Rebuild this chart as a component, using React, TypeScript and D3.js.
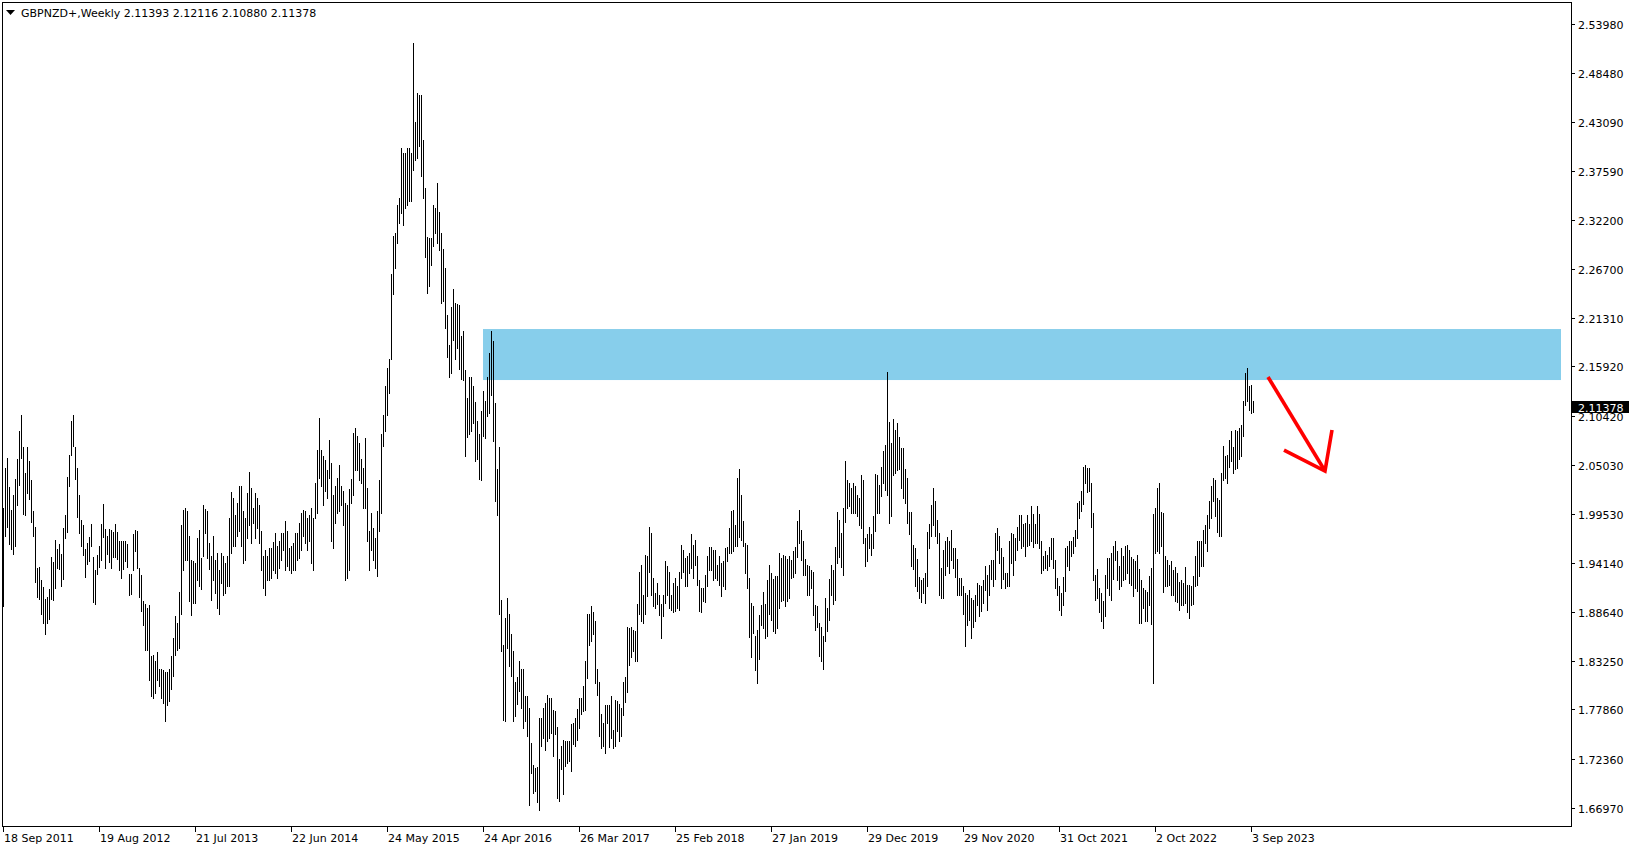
import React from "react";
import * as d3 from "d3";

const SYMBOL = "GBPNZD+,Weekly";
const LAST_OHLC = ["2.11393", "2.12116", "2.10880", "2.11378"];
const LAST_PRICE = 2.11378;
const START_DATE = "18 Sep 2011";

const priceTicks = ["2.53980","2.48480","2.43090","2.37590","2.32200","2.26700","2.21310","2.15920","2.10420","2.05030","1.99530","1.94140","1.88640","1.83250","1.77860","1.72360","1.66970"];
const dateTicks = ["18 Sep 2011","19 Aug 2012","21 Jul 2013","22 Jun 2014","24 May 2015","24 Apr 2016","26 Mar 2017","25 Feb 2018","27 Jan 2019","29 Dec 2019","29 Nov 2020","31 Oct 2021","2 Oct 2022","3 Sep 2023"];

const highs = [
2.002,2.047,2.058,2.025,2.000,2.016,2.034,2.057,2.088,2.105,
2.070,2.041,2.070,2.054,2.033,1.999,1.981,1.935,1.937,1.922,
1.914,1.901,1.903,1.912,1.948,1.942,1.967,1.957,1.962,1.951,
1.980,1.994,2.037,2.061,2.099,2.105,2.070,2.046,2.017,1.989,
1.983,1.957,1.963,1.970,1.984,1.948,1.933,1.950,1.960,1.984,
2.007,1.979,1.971,1.979,1.978,1.975,1.984,1.976,1.966,1.966,
1.966,1.965,1.962,1.929,1.929,1.973,1.978,1.977,1.935,1.928,
1.899,1.895,1.891,1.894,1.838,1.839,1.832,1.842,1.823,1.823,
1.822,1.820,1.820,1.823,1.838,1.858,1.882,1.874,1.909,1.983,
2.000,2.002,1.999,1.971,1.944,1.943,1.941,1.969,1.978,1.947,
2.005,2.001,1.999,1.963,1.949,1.971,1.944,1.952,1.933,1.952,
1.949,1.941,1.949,1.991,2.020,2.013,1.994,2.008,2.026,2.027,
1.999,1.991,2.019,2.042,2.024,2.002,2.019,2.013,2.005,1.977,
1.949,1.955,1.949,1.958,1.958,1.964,1.974,1.960,1.966,1.974,
1.974,1.988,1.977,1.958,1.960,1.963,1.974,1.974,1.985,1.996,
2.000,1.999,1.991,1.994,2.002,1.991,2.030,2.066,2.102,2.067,
2.060,2.055,2.044,2.078,2.052,2.016,2.027,2.035,2.050,2.026,
2.021,2.008,2.005,2.023,2.034,2.085,2.091,2.082,2.074,2.057,
2.046,2.080,2.024,1.977,1.996,1.980,1.969,1.999,2.033,2.084,
2.105,2.138,2.157,2.168,2.262,2.304,2.307,2.338,2.346,2.402,
2.396,2.396,2.402,2.402,2.396,2.518,2.430,2.463,2.460,2.461,
2.411,2.357,2.303,2.302,2.302,2.338,2.335,2.363,2.331,2.307,
2.290,2.268,2.216,2.183,2.225,2.245,2.230,2.228,2.227,2.193,
2.199,2.155,2.124,2.148,2.148,2.138,2.120,2.099,2.084,2.110,
2.132,2.121,2.147,2.174,2.199,2.187,2.119,2.045,2.070,1.900,
1.850,1.880,1.902,1.884,1.862,1.843,1.809,1.815,1.832,1.823,
1.823,1.793,1.794,1.780,1.741,1.717,1.713,1.715,1.769,1.769,
1.780,1.786,1.795,1.791,1.791,1.778,1.777,1.759,1.723,1.738,
1.745,1.744,1.744,1.743,1.762,1.763,1.769,1.779,1.791,1.791,
1.804,1.832,1.885,1.884,1.893,1.887,1.877,1.823,1.809,1.773,
1.763,1.783,1.784,1.784,1.794,1.756,1.789,1.788,1.785,1.780,
1.809,1.815,1.870,1.869,1.870,1.867,1.866,1.895,1.931,1.939,
1.906,1.950,1.949,1.981,1.974,1.924,1.908,1.919,1.905,1.895,
1.906,1.943,1.938,1.931,1.905,1.919,1.924,1.916,1.931,1.961,
1.955,1.947,1.949,1.952,1.973,1.961,1.967,1.949,1.922,1.913,
1.913,1.928,1.949,1.959,1.959,1.955,1.956,1.939,1.949,1.941,
1.943,1.958,1.959,1.980,1.999,2.000,1.983,2.035,2.045,2.016,
1.988,1.963,1.961,1.924,1.897,1.893,1.860,1.867,1.883,1.894,
1.909,1.895,1.922,1.939,1.930,1.923,1.927,1.927,1.952,1.947,
1.950,1.949,1.945,1.949,1.944,1.954,1.959,1.988,2.000,1.978,
1.965,1.945,1.939,1.938,1.933,1.931,1.894,1.893,1.874,1.870,
1.860,1.902,1.891,1.923,1.939,1.933,1.959,1.998,1.989,1.974,
2.002,2.054,2.033,2.030,2.024,2.030,2.027,2.017,2.013,2.039,
2.033,1.969,1.973,1.981,1.973,1.993,2.040,2.039,2.028,2.048,
2.065,2.072,2.153,2.098,2.074,2.101,2.089,2.096,2.081,2.069,
2.069,2.045,2.035,1.998,1.998,1.961,1.958,1.945,1.926,1.922,
1.924,1.930,1.976,1.984,2.005,2.024,2.010,1.989,1.974,1.935,
1.956,1.966,1.970,1.965,1.978,1.958,1.958,1.945,1.924,1.924,
1.915,1.908,1.906,1.911,1.902,1.900,1.905,1.919,1.917,1.915,
1.922,1.938,1.928,1.939,1.944,1.944,1.974,1.980,1.971,1.958,
1.948,1.930,1.930,1.965,1.974,1.973,1.969,1.981,1.994,1.994,
1.984,1.985,1.994,1.984,2.004,1.995,1.984,2.004,1.995,1.966,
1.949,1.954,1.950,1.959,1.969,1.969,1.944,1.924,1.915,1.908,
1.926,1.958,1.960,1.966,1.966,1.970,1.978,2.008,2.010,2.021,
2.048,2.050,2.046,2.046,2.030,1.996,1.928,1.934,1.913,1.908,
1.899,1.928,1.947,1.947,1.952,1.960,1.965,1.954,1.938,1.958,
1.949,1.960,1.961,1.955,1.948,1.945,1.943,1.950,1.934,1.922,
1.913,1.911,1.909,1.927,1.935,1.995,2.002,2.024,2.030,1.998,
1.996,1.949,1.944,1.939,1.943,1.933,1.937,1.930,1.920,1.922,
1.919,1.937,1.917,1.917,1.916,1.927,1.949,1.965,1.965,1.965,
1.978,1.983,1.994,2.010,2.026,2.035,2.033,2.013,2.011,2.041,
2.071,2.060,2.061,2.078,2.088,2.070,2.089,2.087,2.091,2.094,
2.121,2.152,2.157,2.137,2.139,2.12116
];

const lows = [
1.893,1.971,1.981,1.962,1.957,1.951,1.960,2.005,2.028,2.058,
1.995,1.994,2.019,2.012,1.986,1.971,1.920,1.903,1.901,1.885,
1.875,1.862,1.874,1.879,1.901,1.900,1.913,1.935,1.934,1.916,
1.923,1.969,1.975,2.027,2.061,2.071,2.034,1.992,1.974,1.960,
1.950,1.926,1.940,1.943,1.960,1.898,1.895,1.929,1.937,1.944,
1.970,1.936,1.951,1.942,1.936,1.948,1.948,1.946,1.933,1.924,
1.934,1.943,1.937,1.905,1.907,1.933,1.954,1.935,1.903,1.888,
1.872,1.845,1.844,1.811,1.794,1.791,1.797,1.811,1.804,1.791,
1.786,1.766,1.783,1.788,1.801,1.816,1.839,1.844,1.847,1.885,
1.933,1.944,1.944,1.899,1.883,1.897,1.897,1.922,1.916,1.912,
1.949,1.974,1.947,1.934,1.900,1.922,1.908,1.891,1.884,1.919,
1.906,1.908,1.916,1.916,1.952,1.960,1.960,1.971,1.977,1.960,
1.941,1.944,1.969,1.983,1.963,1.985,1.969,1.980,1.963,1.933,
1.913,1.905,1.922,1.922,1.924,1.933,1.930,1.924,1.935,1.944,
1.955,1.933,1.938,1.933,1.930,1.933,1.933,1.944,1.947,1.955,
1.971,1.963,1.955,1.966,1.941,1.933,1.991,1.996,2.035,2.027,
2.005,2.021,2.013,2.035,1.966,1.958,1.985,1.996,1.999,2.005,
1.983,1.922,1.924,1.933,2.008,2.016,2.044,2.044,2.033,2.030,
2.002,2.002,1.966,1.933,1.955,1.944,1.935,1.927,1.977,1.996,
2.071,2.088,2.105,2.130,2.168,2.240,2.268,2.296,2.318,2.329,
2.316,2.335,2.338,2.343,2.343,2.377,2.388,2.391,2.404,2.371,
2.346,2.281,2.241,2.248,2.272,2.293,2.307,2.296,2.288,2.230,
2.232,2.202,2.170,2.148,2.152,2.189,2.167,2.180,2.156,2.145,
2.144,2.060,2.081,2.084,2.088,2.096,2.054,2.056,2.034,2.033,
2.082,2.080,2.104,2.107,2.128,2.077,2.010,1.994,1.884,1.843,
1.767,1.766,1.847,1.827,1.816,1.766,1.771,1.785,1.799,1.780,
1.758,1.766,1.749,1.672,1.708,1.686,1.688,1.676,1.667,1.738,
1.747,1.734,1.744,1.747,1.752,1.727,1.751,1.680,1.677,1.712,
1.685,1.716,1.719,1.721,1.710,1.740,1.738,1.745,1.758,1.773,
1.777,1.778,1.813,1.850,1.854,1.862,1.808,1.795,1.749,1.736,
1.738,1.730,1.763,1.737,1.747,1.736,1.738,1.755,1.744,1.749,
1.772,1.787,1.798,1.828,1.837,1.843,1.832,1.832,1.884,1.877,
1.874,1.885,1.904,1.931,1.905,1.893,1.891,1.895,1.883,1.858,
1.882,1.897,1.905,1.891,1.889,1.887,1.888,1.891,1.889,1.924,
1.931,1.915,1.915,1.930,1.935,1.924,1.939,1.917,1.888,1.887,
1.899,1.898,1.915,1.933,1.933,1.922,1.924,1.922,1.917,1.904,
1.915,1.912,1.943,1.952,1.952,1.954,1.960,1.960,1.970,1.967,
1.960,1.930,1.913,1.859,1.837,1.863,1.822,1.808,1.835,1.872,
1.869,1.858,1.860,1.885,1.878,1.866,1.863,1.869,1.891,1.899,
1.900,1.893,1.899,1.902,1.924,1.926,1.930,1.948,1.963,1.944,
1.928,1.928,1.905,1.906,1.913,1.883,1.867,1.870,1.838,1.832,
1.823,1.854,1.866,1.878,1.905,1.895,1.900,1.941,1.948,1.937,
1.928,1.987,2.002,2.004,1.996,1.996,1.996,1.993,1.983,1.980,
1.963,1.938,1.943,1.958,1.950,1.958,1.977,1.996,1.996,2.015,
2.030,2.022,2.017,1.985,1.993,2.039,2.041,2.044,2.045,2.024,
2.013,2.008,1.985,1.973,1.938,1.934,1.916,1.910,1.902,1.898,
1.908,1.897,1.915,1.958,1.971,1.983,1.971,1.963,1.906,1.902,
1.902,1.928,1.938,1.930,1.944,1.935,1.926,1.905,1.905,1.905,
1.885,1.849,1.872,1.878,1.858,1.870,1.877,1.894,1.882,1.888,
1.897,1.911,1.889,1.906,1.923,1.916,1.923,1.956,1.941,1.913,
1.923,1.913,1.915,1.916,1.941,1.928,1.944,1.955,1.967,1.958,
1.960,1.949,1.960,1.961,1.965,1.959,1.963,1.963,1.958,1.930,
1.933,1.935,1.933,1.938,1.945,1.935,1.913,1.905,1.889,1.883,
1.894,1.910,1.938,1.933,1.949,1.952,1.960,1.969,1.991,1.999,
2.006,2.030,2.020,2.021,1.981,1.922,1.900,1.902,1.887,1.877,
1.869,1.882,1.913,1.905,1.900,1.923,1.944,1.922,1.912,1.915,
1.922,1.923,1.930,1.919,1.917,1.904,1.913,1.910,1.874,1.874,
1.891,1.877,1.877,1.894,1.873,1.808,1.952,1.954,1.952,1.960,
1.909,1.916,1.916,1.917,1.905,1.905,1.899,1.898,1.889,1.894,
1.894,1.897,1.887,1.880,1.894,1.895,1.916,1.917,1.927,1.938,
1.938,1.963,1.954,1.980,1.991,2.010,1.993,1.976,1.971,1.971,
2.033,2.035,2.030,2.048,2.054,2.041,2.045,2.046,2.057,2.060,
2.082,2.116,2.121,2.111,2.107,2.1088
];

// Rectangle zone (bar index range and price range)
const zoneBars = [240, 779];
const zonePrices = [2.2007, 2.1441];
// Hand-drawn arrow: [bar index, price]
const arrowShaft = [[632.5, 2.1475], [661, 2.0431]];
const arrowHead = [[640.5, 2.0664], [661, 2.0431], [664.5, 2.0886]];

const W = 1635;
const H = 850;
const FONT = "'DejaVu Sans', Tahoma, sans-serif";

export default function App() {
  const n = Math.min(highs.length, lows.length);
  const x = d3.scaleLinear().domain([0, 625]).range([3, 1253]);
  const y = d3.scaleLinear().domain([1.6697, 2.5398]).range([807.5, 23.5]);
  const parse = d3.timeParse("%d %b %Y");
  const start = parse(START_DATE) as Date;
  const weekIndex = (s: string) => {
    const d = parse(s) as Date;
    return Math.round((d.getTime() - start.getTime()) / (7 * 86400000));
  };

  const bars = d3.range(n).map((i) => ({ i, h: highs[i], l: lows[i] }));
  const line = d3.line<number[]>().x((d) => x(d[0])).y((d) => y(d[1]));
  const lastY = y(LAST_PRICE);

  return (
    <div style={{ position: "absolute", left: 0, top: 0, width: W, height: H, background: "#fff" }}>
      <svg width={W} height={H} style={{ display: "block" }} fontFamily={FONT}>
        <rect x={0} y={0} width={W} height={H} fill="#fff" />
        {/* zone */}
        <rect
          x={x(zoneBars[0])}
          y={y(zonePrices[0])}
          width={x(zoneBars[1]) - x(zoneBars[0])}
          height={y(zonePrices[1]) - y(zonePrices[0])}
          fill="#87CEEB"
        />
        {/* bars */}
        <g stroke="#000" strokeWidth={1} shapeRendering="crispEdges">
          {bars.map((b) => (
            <line key={b.i} x1={x(b.i) + 0.5} x2={x(b.i) + 0.5} y1={Math.round(y(b.h))} y2={Math.round(y(b.l)) + 1} />
          ))}
        </g>
        {/* border */}
        <rect x={2.5} y={2.5} width={1569} height={824} fill="none" stroke="#000" strokeWidth={1} shapeRendering="crispEdges" />
        {/* price axis */}
        <g fontSize={11} fill="#000">
          {priceTicks.map((t) => {
            const yy = Math.round(y(parseFloat(t)));
            return (
              <g key={t}>
                <line x1={1572} x2={1575} y1={yy + 0.5} y2={yy + 0.5} stroke="#000" shapeRendering="crispEdges" />
                <text x={1578} y={yy + 4.5}>{t}</text>
              </g>
            );
          })}
        </g>
        {/* current price label */}
        <rect x={1572} y={Math.round(lastY) - 6} width={57} height={12} fill="#000" />
        <text x={1578} y={Math.round(lastY) + 4.5} fontSize={11} fill="#fff">{LAST_PRICE.toFixed(5)}</text>
        {/* time axis */}
        <g fontSize={11} fill="#000">
          {dateTicks.map((t) => {
            const xx = x(weekIndex(t));
            return (
              <g key={t}>
                <line x1={xx + 0.5} x2={xx + 0.5} y1={827} y2={832} stroke="#000" shapeRendering="crispEdges" />
                <text x={xx + 1} y={841.5}>{t}</text>
              </g>
            );
          })}
        </g>
        {/* header */}
        <path d="M6,10 L15,10 L10.5,15 Z" fill="#000" />
        <text x={21} y={16.5} fontSize={11} fill="#000">
          {SYMBOL + "  " + LAST_OHLC.join(" ")}
        </text>
        {/* arrow */}
        <g fill="none" stroke="#FF0000" strokeWidth={3.6} strokeLinejoin="miter">
          <path d={line(arrowShaft) || ""} />
          <path d={line(arrowHead) || ""} />
        </g>
      </svg>
    </div>
  );
}
